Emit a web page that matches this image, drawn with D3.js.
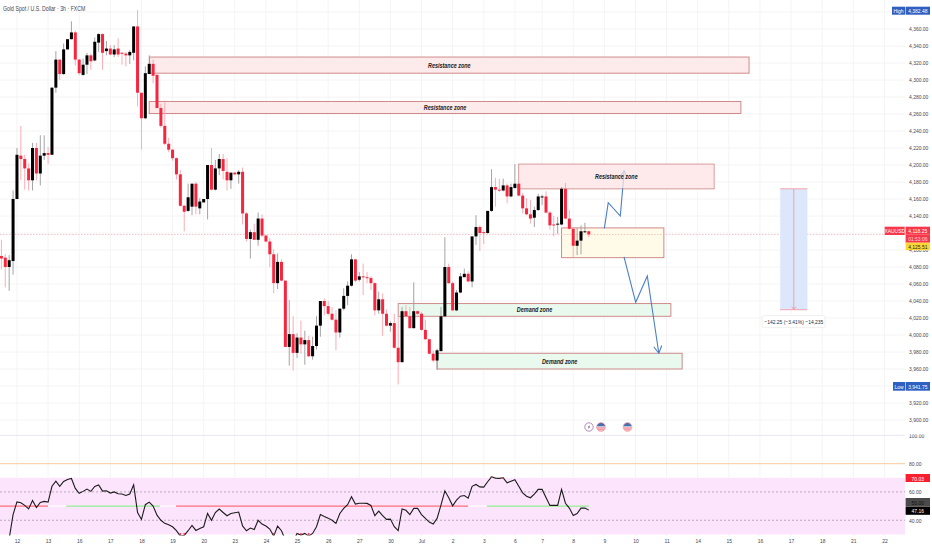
<!DOCTYPE html>
<html>
<head>
<meta charset="utf-8">
<script src="https://cdnjs.cloudflare.com/ajax/libs/d3/7.8.5/d3.min.js"></script>
<style>
  html, body { margin: 0; padding: 0; background: #fff; }
  svg { display: block; font-family: "Liberation Sans", sans-serif; }
  .tick text { fill: #434651; font-size: 6.2px; }
  .domain, .tick line { display: none; }
  .zone-label { font-size: 6.8px; font-style: italic; font-weight: bold; fill: #222; text-anchor: middle; dominant-baseline: central; }
  .tag { font-size: 6.2px; text-anchor: middle; dominant-baseline: central; }
</style>
</head>
<body>
<svg id="chart" width="932" height="550"></svg>
<script>
// candles, one entry per 3h bar
const opens = [4093,4091,4080,4087,4160,4211,4207,4196,4182,4220,4190,4211,4214,4212,4291,4324,4307,4336,4348,4356,
  4324,4306,4318,4329,4323,4344,4354,4334,4337,4330,4337,4332,4331,4329,4332,4363,4285,4255,4307,4319,
  4306,4267,4246,4225,4218,4208,4189,4152,4146,4151,4178,4149,4156,4160,4200,4171,4196,4207,4192,4182,
  4191,4189,4192,4143,4113,4121,4112,4137,4117,4110,4095,4061,4086,4064,3986,4001,3979,3997,3989,3994,
  3975,3987,4011,4040,4034,4025,4018,4003,4031,4046,4058,4089,4065,4069,4068,4067,4061,4029,4042,4025,
  4011,4014,3985,3968,4028,4022,4008,4028,4025,4006,3995,3978,3970,3981,4022,4080,4061,4029,4050,4068,
  4072,4063,4116,4127,4121,4120,4146,4174,4171,4170,4176,4163,4173,4178,4164,4149,4142,4138,4147,4162,
  4163,4144,4130,4130,4130,4172,4137,4125,4105,4111,4121.5,4122];
const highs = [4112,4095,4094,4170,4220,4246,4212,4202,4226,4226,4235,4235,4221,4291,4334,4324,4343,4348,4369,4358,
  4325,4325,4332,4331,4350,4355,4355,4346,4341,4341,4349,4333,4333,4335,4363,4382.48,4285,4316,4329,4324,
  4307,4272,4276,4232,4219,4209,4194,4153,4178,4178,4180,4161,4160,4200,4220,4206,4213,4213,4208,4191,
  4192,4194,4197,4145,4124,4131,4144,4142,4118,4114,4101,4096,4089,4064,4041,4022,4002,4017,4005,3999,
  3998,4022,4040,4043,4040,4033,4029,4031,4055,4063,4095,4090,4074,4084,4074,4069,4062,4051,4049,4030,
  4016,4025,4022,4033,4035,4033,4062,4029,4027,4018,3996,3982,3984,4033,4115,4084,4063,4053,4073,4078,
  4075,4116,4141,4129,4123,4146,4195,4185,4184,4184,4178,4178,4201,4179,4167,4161,4159,4151,4166,4165,
  4169,4146,4140,4139,4174,4179,4147,4127,4126,4129,4132,4123];
const lows = [4077,4056,4052,4071,4160,4182,4171,4170,4170,4182,4176,4206,4201,4212,4285,4300,4306,4336,4348,4317,
  4306,4305,4307,4312,4322,4333,4312,4329,4329,4327,4327,4318,4316,4319,4323,4269,4218,4254,4307,4296,
  4267,4244,4223,4215,4205,4183,4151,4122,4145,4141,4142,4142,4156,4136,4170,4170,4188,4183,4170,4172,
  4188,4178,4130,4110,4090,4112,4105,4115,4109,4080,4049,4054,4063,3986,3964,3958,3973,3978,3965,3974,
  3971,3983,3998,4023,4023,4017,3982,3997,4029,4035,4057,4062,4063,4047,4061,4053,4023,4025,3999,4010,
  4004,3984,3941.75,3968,4021,4008,4008,4023,4005,3994,3977,3968,3959,3981,4021,4060,4028,4028,4049,4068,
  4062,4056,4106,4099,4107,4119,4145,4151,4168,4169,4155,4162,4172,4163,4143,4141,4131,4127,4146,4153,
  4143,4124,4116,4119,4129,4136,4124,4092,4094,4095,4120,4115];
const closes = [4090,4080,4088,4160,4212,4207,4196,4182,4220,4190,4211,4214,4212,4291,4324,4307,4336,4348,4356,4324,
  4308,4318,4329,4322,4345,4354,4332,4337,4330,4336,4330,4331,4329,4333,4363,4285,4255,4308,4319,4305,
  4267,4246,4225,4218,4208,4189,4152,4145,4162,4178,4151,4157,4160,4200,4171,4196,4207,4193,4182,4191,
  4189,4192,4143,4113,4121,4112,4137,4117,4110,4095,4061,4086,4064,3986,4001,3979,3997,3989,3994,3975,
  3987,4011,4040,4034,4025,4018,4003,4031,4046,4058,4089,4064,4069,4068,4067,4061,4029,4042,4025,4011,
  4014,3985,3968,4028,4022,4008,4028,4025,4006,3995,3978,3970,3982,4022,4080,4061,4029,4050,4069,4072,
  4063,4116,4127,4120,4120,4146,4174,4171,4170,4176,4163,4174,4178,4164,4149,4142,4137,4147,4163,4163,
  4144,4129,4129,4131,4172,4137,4125,4105,4111,4122,4122,4118.25];

// rsi per bar, first two bars have none
const rsi = [null,null,27,44,53,52.4,50.5,48,54,49,52.6,53.3,52.8,64,67.6,64,67.4,68.8,69.5,62.5,
  59,60.4,62,60.4,63.9,65,60.6,60.8,59.2,60,58.7,58.5,57.5,58.5,65,45.5,40.6,51,52.8,50,
  43.6,40,37.8,36.8,35.4,32.6,28.8,29.3,32.6,36.4,32.8,34.2,35.4,44.8,40,45.5,47.9,45.5,43.2,44.8,
  45.3,45.8,36,32.6,34.5,33.5,40,37.3,35.9,33.8,28.8,35.9,32.6,26,26,25,30.7,29.5,30.7,28.8,
  30.7,35.4,44,42.7,41.5,40,37.8,44.8,48.4,51,56.6,51.4,52,52,51.9,50.5,43.2,46.5,43.2,40.6,
  40.8,35.4,32.6,48,47,44,48.4,48.4,44,41.3,38.7,37.3,41.3,50.7,60.8,55.9,50.2,54.2,57,57.5,
  55.6,64,65.3,63.6,63.4,67.2,70.7,69.8,69.6,70,66.5,67.6,68.6,64,59.4,57,55.9,58.5,61.8,61.8,
  56,50.5,50.5,50.5,61.8,52,48.6,43.4,44.8,48.6,48.6,47.16];

// rsi middle line pieces
const basisFrom = [-1, 12, 16.7, 40.8, 44.9, 120, 124.8];
const basisTo = [12, 16.7, 40.8, 44.9, 120, 124.8, 151];
const basisColor = ['#ff6f7a', '#ffffff', '#92f092', '#ffffff', '#ff6f7a', '#ffffff', '#92f092'];

// zones
const zoneNames = ['Resistance zone', 'Resistance zone', 'Resistance zone', '', 'Demand zone', 'Demand zone'];
const zoneTop = [4327, 4274.7, 4201, 4126, 4037, 3978.5];
const zoneBottom = [4308, 4260.6, 4172, 4091, 4022, 3960];
const zoneStart = [38.1, 38, 133, 144, 102, 112];
const zoneEnd = [192.2, 190.1, 183.2, 170.3, 172.1, 175];
const zoneFill = ['#fdeaea', '#fdeaea', '#fdeaea', '#fffbe8', '#e9f9ee', '#e9f9ee'];

// projected path, bar index and price
const pathUpBars = [155, 156, 159.1, 160.1];
const pathUpPrices = [4125.5, 4155.6, 4140, 4193.3];
const pathDownBars = [160.05, 163.06, 166.04, 169];
const pathDownPrices = [4092, 4038.5, 4069.4, 3978.5];

// measure tool
const measureBars = [200.2, 207.2];
const measurePrices = [4172, 4029.75];
const measureText = '\u2212142.25 (\u22123.41%) \u221214,235';

// time axis
const dateBars = [4,12,20,28,36,44,52,60,68,76,84,92,100,108,116,124,132,139,147,155,163,171,179,187,195,203,211,219,227];
const dateLabels = ['12','13','16','17','18','19','20','23','24','25','26','27','30','Jul','2','3','6','7','8','9','10','11','14','15','16','17','18','21','22'];
const priceTicks = d3.range(3900, 4381, 20);
const hiddenTicks = [4380, 4120, 3940]; // sit right behind the tags
const rsiTicks = [100, 80, 60, 40];

const plotRight = 905;
const svg = d3.select('#chart');

const x = d3.scaleLinear().domain([0, 1]).range([1.4, 5.29]);
const y = d3.scaleLinear().domain([4200, 4000]).range([165, 335]);
const yRsi = d3.scaleLinear().domain([70, 30]).range([477.8, 534.4]);
const fmt = d3.format(',.2f');

const defs = svg.append('defs');
defs.append('clipPath').attr('id', 'plotClip').append('rect')
  .attr('x', 0).attr('y', 0).attr('width', plotRight).attr('height', 434);
defs.append('clipPath').attr('id', 'rsiClip').append('rect')
  .attr('x', 0).attr('y', 434).attr('width', plotRight).attr('height', 101.5);
defs.append('clipPath').attr('id', 'rsiAxisClip').append('rect')
  .attr('x', 0).attr('y', 434.6).attr('width', 30).attr('height', 100);
defs.append('clipPath').attr('id', 'flagClip').append('circle').attr('r', 4.2);
defs.append('marker').attr('id', 'head').attr('viewBox', '0 0 10 10')
  .attr('refX', 9).attr('refY', 5).attr('markerWidth', 9).attr('markerHeight', 9)
  .attr('orient', 'auto').attr('markerUnits', 'userSpaceOnUse')
  .append('path').attr('d', 'M1,0.5L9,5L1,9.5').attr('fill', 'none').attr('stroke', '#4a7fc4').attr('stroke-width', 1.2);

// grid
svg.append('g').selectAll('line').data(priceTicks).enter().append('line')
  .attr('x1', 0).attr('x2', plotRight).attr('y1', d => y(d)).attr('y2', d => y(d))
  .attr('stroke', '#f4f4f6');
svg.append('g').selectAll('line').data(dateBars).enter().append('line')
  .attr('x1', d => x(d)).attr('x2', d => x(d)).attr('y1', 0).attr('y2', 536)
  .attr('stroke', '#f4f4f6');

// zones sit under the candles
const zones = svg.append('g').attr('clip-path', 'url(#plotClip)').selectAll('rect')
  .data(zoneNames).enter().append('rect')
  .attr('x', (d, i) => x(zoneStart[i]))
  .attr('y', (d, i) => y(zoneTop[i]))
  .attr('width', (d, i) => x(zoneEnd[i]) - x(zoneStart[i]))
  .attr('height', (d, i) => y(zoneBottom[i]) - y(zoneTop[i]))
  .attr('fill', (d, i) => zoneFill[i])
  .attr('stroke', '#cf8b8b')
  .attr('stroke-width', 1);

// last price line
svg.append('line').attr('x1', 0).attr('x2', plotRight)
  .attr('y1', y(closes[closes.length - 1])).attr('y2', y(closes[closes.length - 1]))
  .attr('stroke', '#f9a9b0').attr('stroke-width', 0.7).attr('stroke-dasharray', '1.5,1.5');

// projected path
const pathLine = d3.line().x(d => x(d[0])).y(d => y(d[1]));
[[pathUpBars, pathUpPrices], [pathDownBars, pathDownPrices]].forEach(p => {
  svg.append('path')
    .attr('d', pathLine(d3.zip(p[0], p[1])))
    .attr('fill', 'none')
    .attr('stroke', '#4a7fc4')
    .attr('stroke-width', 1.1)
    .attr('marker-end', 'url(#head)');
});
// the top zone covers the upper part of the path, washes it out
svg.append('rect')
  .attr('x', x(zoneStart[2]) + 0.5).attr('y', y(zoneTop[2]) + 0.5)
  .attr('width', x(zoneEnd[2]) - x(zoneStart[2]) - 1)
  .attr('height', y(zoneBottom[2]) - y(zoneTop[2]) - 1)
  .attr('fill', zoneFill[2]).attr('opacity', 0.72);

// candles
const isUp = i => closes[i] >= opens[i];
const candles = svg.append('g').attr('clip-path', 'url(#plotClip)').selectAll('g')
  .data(d3.range(opens.length)).enter().append('g');
candles.append('line')
  .attr('x1', i => x(i)).attr('x2', i => x(i))
  .attr('y1', i => y(highs[i])).attr('y2', i => y(lows[i]))
  .attr('stroke', i => isUp(i) ? '#9a9a9a' : '#f9a4ae')
  .attr('stroke-width', 0.9);
candles.append('rect')
  .attr('x', i => x(i) - 1.5)
  .attr('y', i => y(Math.max(opens[i], closes[i])))
  .attr('width', 3)
  .attr('height', i => Math.max(1, Math.abs(y(opens[i]) - y(closes[i]))))
  .attr('fill', i => isUp(i) ? '#000' : '#f7263f');

// zone names on top of candles
svg.append('g').selectAll('text').data(zoneNames).enter().append('text')
  .attr('class', 'zone-label')
  .attr('x', (d, i) => (x(zoneStart[i]) + x(zoneEnd[i])) / 2)
  .attr('y', (d, i) => (y(zoneTop[i]) + y(zoneBottom[i])) / 2)
  .text(d => d);

// measure tool
svg.append('rect')
  .attr('x', x(measureBars[0])).attr('y', y(measurePrices[0]))
  .attr('width', x(measureBars[1]) - x(measureBars[0]))
  .attr('height', y(measurePrices[1]) - y(measurePrices[0]))
  .attr('fill', '#dde7fc');
measurePrices.forEach(p => {
  svg.append('line').attr('x1', x(measureBars[0])).attr('x2', x(measureBars[1]))
    .attr('y1', y(p)).attr('y2', y(p)).attr('stroke', '#f49aa3').attr('stroke-width', 0.9);
});
const midBar = (measureBars[0] + measureBars[1]) / 2;
svg.append('line').attr('x1', x(midBar)).attr('x2', x(midBar))
  .attr('y1', y(measurePrices[0])).attr('y2', y(measurePrices[1]))
  .attr('stroke', '#f49aa3').attr('stroke-width', 0.9);
svg.append('path')
  .attr('d', `M${x(midBar) - 2},${y(measurePrices[1]) - 3}L${x(midBar)},${y(measurePrices[1])}L${x(midBar) + 2},${y(measurePrices[1]) - 3}`)
  .attr('fill', 'none').attr('stroke', '#f49aa3').attr('stroke-width', 0.9);
svg.append('rect').attr('x', 762).attr('y', 315.6).attr('width', 63).attr('height', 12).attr('rx', 1.5)
  .attr('fill', '#fff').attr('stroke', '#e4e4e4').attr('stroke-width', 0.6);
svg.append('text').attr('x', x(midBar)).attr('y', 321.8).attr('text-anchor', 'middle')
  .attr('dominant-baseline', 'central').attr('font-size', 6.2).attr('fill', '#2a2e39').text(measureText);

// event icons
const eventX = [589, 601, 627.5];
svg.append('circle').attr('cx', eventX[0]).attr('cy', 427).attr('r', 4.2)
  .attr('fill', '#fff').attr('stroke', '#a06fa8').attr('stroke-width', 0.8);
svg.append('path').attr('transform', `translate(${eventX[0]},427)`)
  .attr('d', 'M0.8,-2.6L-1.2,0.4L0,0.4L-0.8,2.6L1.2,-0.4L0,-0.4Z').attr('fill', '#6d4a78');
eventX.slice(1).forEach(cx => {
  const f = svg.append('g').attr('transform', `translate(${cx},427)`);
  const g = f.append('g').attr('clip-path', 'url(#flagClip)');
  g.append('rect').attr('x', -5).attr('y', -5).attr('width', 10).attr('height', 10).attr('fill', '#fff');
  g.append('rect').attr('x', -5).attr('y', -5).attr('width', 10).attr('height', 4.4).attr('fill', '#4a6fb0');
  [0.5, 2.4].forEach(s => {
    g.append('rect').attr('x', -5).attr('y', s).attr('width', 10).attr('height', 1).attr('fill', '#ef5a68');
  });
  f.append('circle').attr('r', 4.4).attr('fill', 'none').attr('stroke', '#ef8a94').attr('stroke-width', 0.7);
});

// rsi pane
svg.append('line').attr('x1', 0).attr('x2', plotRight).attr('y1', yRsi(100)).attr('y2', yRsi(100))
  .attr('stroke', '#e8e6f6');
svg.append('line').attr('x1', 0).attr('x2', plotRight).attr('y1', yRsi(80)).attr('y2', yRsi(80))
  .attr('stroke', '#fbd3ae').attr('stroke-width', 1.2);
svg.append('rect').attr('x', 0).attr('y', yRsi(70)).attr('width', plotRight)
  .attr('height', yRsi(30) - yRsi(70)).attr('fill', '#fce4fc');
[60, 40].forEach(v => {
  svg.append('line').attr('x1', 0).attr('x2', plotRight).attr('y1', yRsi(v)).attr('y2', yRsi(v))
    .attr('stroke', '#9c8f9c').attr('stroke-width', 0.7).attr('stroke-dasharray', '2,2');
});
svg.append('g').selectAll('line').data(basisColor).enter().append('line')
  .attr('x1', (d, i) => x(basisFrom[i])).attr('x2', (d, i) => x(basisTo[i]))
  .attr('y1', yRsi(50)).attr('y2', yRsi(50))
  .attr('stroke', d => d).attr('stroke-width', 1.2);

const rsiPane = svg.append('g').attr('clip-path', 'url(#rsiClip)');
rsiPane.append('path')
  .attr('d', d3.line().defined(d => d !== null).x((d, i) => x(i)).y(d => yRsi(d))(rsi))
  .attr('fill', 'none').attr('stroke', '#1c1c1c').attr('stroke-width', 1.1);
rsiPane.selectAll('circle').data(d3.range(rsi.length).filter(i => rsi[i] !== null && (rsi[i] >= 70 || (rsi[i] <= 30 && rsi[i] > 28))))
  .enter().append('circle')
  .attr('cx', i => x(i)).attr('cy', i => yRsi(Math.max(rsi[i], 30.3))).attr('r', 0.9).attr('fill', '#f7263f');

// axes
svg.append('g').attr('transform', `translate(${plotRight},0)`)
  .call(d3.axisRight(y).tickValues(priceTicks.filter(d => !hiddenTicks.includes(d))).tickFormat(fmt).tickSize(0).tickPadding(4));
svg.append('g').attr('transform', `translate(${plotRight},0)`).attr('clip-path', 'url(#rsiAxisClip)')
  .call(d3.axisRight(yRsi).tickValues(rsiTicks).tickFormat(fmt).tickSize(0).tickPadding(4));
svg.append('g').attr('transform', 'translate(0,536)')
  .call(d3.axisBottom(x).tickValues(dateBars).tickFormat((d, i) => dateLabels[i]).tickSize(0).tickPadding(3));

// title
svg.append('text').attr('x', 3).attr('y', 8).attr('dominant-baseline', 'central')
  .attr('font-size', 6.5).attr('fill', '#434651').text('Gold Spot / U.S. Dollar \u00b7 3h \u00b7 FXCM');

// tags on the right scale
function tag(x0, width, y0, height, fill, text, color) {
  svg.append('rect').attr('x', x0).attr('y', y0).attr('width', width).attr('height', height).attr('fill', fill);
  svg.append('text').attr('class', 'tag').attr('x', x0 + width / 2).attr('y', y0 + height / 2)
    .style('fill', color).text(text);
}
tag(892, 13, 6.7, 8, '#2f5fc0', 'High', '#fff');
tag(905.6, 24.4, 6.7, 8, '#2f5fc0', fmt(d3.max(highs)), '#fff');
tag(893, 12, 382, 8.7, '#2f5fc0', 'Low', '#fff');
tag(905.6, 24.4, 382, 8.7, '#2f5fc0', fmt(d3.min(lows)), '#fff');
tag(884.7, 20, 226.7, 8.3, '#f7374a', 'XAUUSD', '#fff');
tag(905.6, 24.4, 226.7, 8, '#f7374a', fmt(closes[closes.length - 1]), '#fff');
tag(905.6, 24.4, 234.7, 8, '#f7374a', '01:53:06', '#ffd5d9');
tag(905.6, 24.4, 242.7, 7.4, '#fdd835', '4,125.51', '#222');
tag(905.6, 24.4, 474, 8, '#f6202f', '70.03', '#fff');
tag(905.6, 24.4, 498, 8, '#4a4a4a', '50.00', '#111');
tag(905.6, 24.4, 506.4, 8.4, '#000', fmt(rsi[rsi.length - 1]), '#fff');

// the reference type is narrow, squeeze everything the same way
svg.selectAll('text').each(function() {
  const w = this.getComputedTextLength();
  if (w > 0) d3.select(this).attr('textLength', w * 0.8).attr('lengthAdjust', 'spacingAndGlyphs');
});
</script>
</body>
</html>
